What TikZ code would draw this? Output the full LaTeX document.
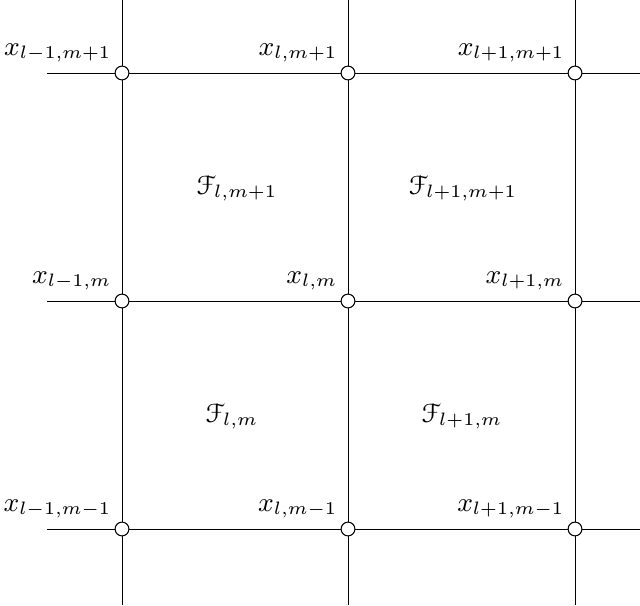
\documentclass[tikz,border=0pt]{standalone}
\usepackage{eucal}
\usetikzlibrary{calc}
\begin{document}
\begin{tikzpicture}[x=0.3333pt,y=-0.3333pt,font=\small,
  vtx/.style={circle,draw,fill=white,inner sep=0pt,minimum size=4.6pt,line width=0.35pt},
  lbl/.style={anchor=south east,inner sep=0pt},
  face/.style={inner sep=0pt},
  gridline/.style={line width=0.32pt}]
\useasboundingbox (0,0) rectangle (640,605);
% free ends
\coordinate (t1) at (122,0); \coordinate (t2) at (348,0); \coordinate (t3) at (575,0);
\coordinate (b1) at (122,605); \coordinate (b2) at (348,605); \coordinate (b3) at (575,605);
\coordinate (l1) at (47,73); \coordinate (l2) at (47,301); \coordinate (l3) at (47,529);
\coordinate (r1) at (640,73); \coordinate (r2) at (640,301); \coordinate (r3) at (640,529);
% lines
\draw[gridline] (t1) -- (b1); \draw[gridline] (t2) -- (b2); \draw[gridline] (t3) -- (b3);
\draw[gridline] (l1) -- (r1); \draw[gridline] (l2) -- (r2); \draw[gridline] (l3) -- (r3);
% vertices
\node[vtx] (a1) at (122,73) {}; \node[vtx] (a2) at (348,73) {}; \node[vtx] (a3) at (575,73) {};
\node[vtx] (c1) at (122,301) {}; \node[vtx] (c2) at (348,301) {}; \node[vtx] (c3) at (575,301) {};
\node[vtx] (d1) at (122,529) {}; \node[vtx] (d2) at (348,529) {}; \node[vtx] (d3) at (575,529) {};
% vertex labels
\node[lbl] (la1) at ($(a1)+(-10,-10)$) {$x_{l-1,m+1}$};
\node[lbl] (la2) at ($(a2)+(-10,-10)$) {$x_{l,m+1}$};
\node[lbl] (la3) at ($(a3)+(-10,-10)$) {$x_{l+1,m+1}$};
\node[lbl] (lc1) at ($(c1)+(-10,-10)$) {$x_{l-1,m}$};
\node[lbl] (lc2) at ($(c2)+(-10,-10)$) {$x_{l,m}$};
\node[lbl] (lc3) at ($(c3)+(-10,-10)$) {$x_{l+1,m}$};
\node[lbl] (ld1) at ($(d1)+(-10,-10)$) {$x_{l-1,m-1}$};
\node[lbl] (ld2) at ($(d2)+(-10,-10)$) {$x_{l,m-1}$};
\node[lbl] (ld3) at ($(d3)+(-10,-10)$) {$x_{l+1,m-1}$};
% faces
\node[face] (f1) at (237,188) {$\mathcal{F}_{l,m+1}$};
\node[face] (f2) at (463,188) {$\mathcal{F}_{l+1,m+1}$};
\node[face] (f3) at (232,416) {$\mathcal{F}_{l,m}$};
\node[face] (f4) at (462,416) {$\mathcal{F}_{l+1,m}$};
\end{tikzpicture}
\end{document}
